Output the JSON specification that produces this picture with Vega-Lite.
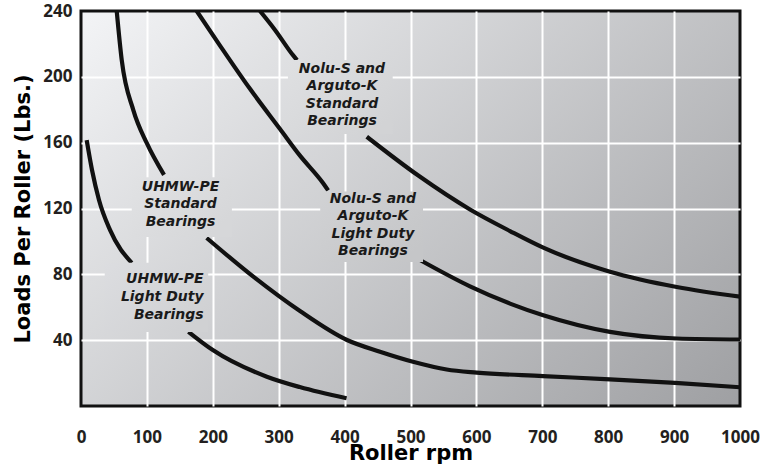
{
  "$schema": "https://vega.github.io/schema/vega-lite/v6.json",
  "width": 659,
  "height": 395,
  "autosize": "none",
  "padding": {"left": 81, "top": 11, "right": 38, "bottom": 62},
  "background": "white",
  "config": {
    "view": {
      "fill": {"gradient": "linear", "x1": 0, "y1": 0, "x2": 1.2, "y2": 0.76,
        "stops": [{"offset": 0, "color": "#f3f4f6"}, {"offset": 1, "color": "#9c9da0"}]},
      "stroke": "#111111",
      "strokeWidth": 3
    },
    "axis": {
      "domain": false,
      "ticks": false,
      "tickSize": 0,
      "grid": true,
      "gridColor": "#ffffff",
      "gridWidth": 2,
      "labelFont": "Open Sans",
      "labelFontWeight": 700,
      "labelFontSize": 17,
      "labelColor": "#231f20",
      "titleFont": "DejaVu Sans",
      "titleFontWeight": 700,
      "titleFontSize": 21,
      "titleColor": "#000000"
    }
  },
  "datasets": {
    "curves": [
      {"seg": "A1", "rpm": 8.6, "load": 161.6},
      {"seg": "A1", "rpm": 16.7, "load": 143.4},
      {"seg": "A1", "rpm": 27.3, "load": 125.2},
      {"seg": "A1", "rpm": 44, "load": 107},
      {"seg": "A1", "rpm": 77, "load": 86.9},
      {"seg": "A2", "rpm": 163, "load": 45.1},
      {"seg": "A2", "rpm": 200, "load": 34},
      {"seg": "A2", "rpm": 282, "load": 17.8},
      {"seg": "A2", "rpm": 332, "load": 11.5},
      {"seg": "A2", "rpm": 403, "load": 4.7},
      {"seg": "B1", "rpm": 54.2, "load": 240},
      {"seg": "B1", "rpm": 61.8, "load": 210.2},
      {"seg": "B1", "rpm": 79.4, "load": 179.8},
      {"seg": "B1", "rpm": 99.7, "load": 159.8},
      {"seg": "B1", "rpm": 126, "load": 140.4},
      {"seg": "B2", "rpm": 190.7, "load": 102.1},
      {"seg": "B2", "rpm": 261.5, "load": 78.6},
      {"seg": "B2", "rpm": 332.3, "load": 57.7},
      {"seg": "B2", "rpm": 403.6, "load": 40.1},
      {"seg": "B2", "rpm": 453.7, "load": 33},
      {"seg": "B2", "rpm": 503.8, "load": 26.9},
      {"seg": "B2", "rpm": 554.9, "load": 22.2},
      {"seg": "B2", "rpm": 600.5, "load": 20.3},
      {"seg": "B2", "rpm": 701, "load": 18.2},
      {"seg": "B2", "rpm": 802.7, "load": 16.2},
      {"seg": "B2", "rpm": 901.4, "load": 14},
      {"seg": "B2", "rpm": 1000, "load": 11.4},
      {"seg": "C1", "rpm": 175.6, "load": 240},
      {"seg": "C1", "rpm": 210.9, "load": 219},
      {"seg": "C1", "rpm": 256.4, "load": 192.7},
      {"seg": "C1", "rpm": 302, "load": 168.3},
      {"seg": "C1", "rpm": 332.3, "load": 152.1},
      {"seg": "C1", "rpm": 367.2, "load": 135.5},
      {"seg": "C1", "rpm": 375, "load": 131},
      {"seg": "C2", "rpm": 514.4, "load": 88.7},
      {"seg": "C2", "rpm": 590.3, "load": 72.7},
      {"seg": "C2", "rpm": 651, "load": 62.2},
      {"seg": "C2", "rpm": 701.5, "load": 55.1},
      {"seg": "C2", "rpm": 802.7, "load": 45},
      {"seg": "C2", "rpm": 904, "load": 41},
      {"seg": "C2", "rpm": 1000, "load": 40.4},
      {"seg": "D1", "rpm": 271.6, "load": 240},
      {"seg": "D1", "rpm": 294.4, "load": 228.5},
      {"seg": "D1", "rpm": 322, "load": 213},
      {"seg": "D1", "rpm": 327.8, "load": 210.2},
      {"seg": "D2", "rpm": 433.6, "load": 163.6},
      {"seg": "D2", "rpm": 511.8, "load": 140},
      {"seg": "D2", "rpm": 590.3, "load": 119.4},
      {"seg": "D2", "rpm": 651, "load": 106.3},
      {"seg": "D2", "rpm": 701.5, "load": 96.2},
      {"seg": "D2", "rpm": 802.7, "load": 81.6},
      {"seg": "D2", "rpm": 904, "load": 72.3},
      {"seg": "D2", "rpm": 1000, "load": 66.4}
    ],
    "labels": [
      {"id": "A", "rpm": 36, "rpm2": 193, "load": 45, "load2": 87, "trpm": 186, "tload": 77.2, "text": "UHMW-PE\nLight Duty\nBearings"},
      {"id": "B", "rpm": 77, "rpm2": 229, "load": 102.7, "load2": 139, "trpm": 151, "tload": 133.2, "text": "UHMW-PE\nStandard\nBearings"},
      {"id": "C", "rpm": 363, "rpm2": 519, "load": 87.5, "load2": 130.4, "trpm": 443, "tload": 125.8, "text": "Nolu-S and\nArguto-K\nLight Duty\nBearings"},
      {"id": "D", "rpm": 314, "rpm2": 473, "load": 165.3, "load2": 210.2, "trpm": 396, "tload": 204.8, "text": "Nolu-S and\nArguto-K\nStandard\nBearings"}
    ]
  },
  "layer": [
    {
      "data": {"name": "curves"},
      "mark": {"type": "line", "color": "#111111", "strokeWidth": 4.2, "interpolate": "monotone", "clip": true},
      "encoding": {
        "x": {"field": "rpm", "type": "quantitative",
          "scale": {"domain": [0, 1000], "nice": false, "zero": false},
          "axis": {"title": "Roller rpm", "values": [0, 100, 200, 300, 400, 500, 600, 700, 800, 900, 1000],
            "format": "d", "labelFlush": false, "labelPadding": 23, "titleY": 53, "titleBaseline": "alphabetic",
            "gridOpacity": {"condition": {"test": "datum.value == 0 || datum.value == 1000", "value": 0}, "value": 1}}},
        "y": {"field": "load", "type": "quantitative",
          "scale": {"domain": [0, 240], "nice": false},
          "axis": {"title": "Loads Per Roller (Lbs.)", "values": [40, 80, 120, 160, 200, 240],
            "labelPadding": 9, "titleX": -58, "titleBaseline": "middle",
            "gridOpacity": {"condition": {"test": "datum.value == 240", "value": 0}, "value": 1}}},
        "detail": {"field": "seg", "type": "nominal"}
      }
    },
    {
      "data": {"name": "labels"},
      "transform": [{"filter": "datum.id == 'A'"}],
      "mark": {"type": "rect", "fill": {"gradient": "linear", "x1": 0, "y1": 0, "x2": 1, "y2": 0.709,
        "stops": [{"offset": 0, "color": "#dcdde0"}, {"offset": 1, "color": "#d0d1d3"}]}},
      "encoding": {
        "x": {"field": "rpm", "type": "quantitative"}, "x2": {"field": "rpm2"},
        "y": {"field": "load", "type": "quantitative"}, "y2": {"field": "load2"}
      }
    },
    {
      "data": {"name": "labels"},
      "transform": [{"filter": "datum.id == 'B'"}],
      "mark": {"type": "rect", "fill": {"gradient": "linear", "x1": 0, "y1": 0, "x2": 1, "y2": 0.635,
        "stops": [{"offset": 0, "color": "#e1e2e4"}, {"offset": 1, "color": "#d6d7d9"}]}},
      "encoding": {
        "x": {"field": "rpm", "type": "quantitative"}, "x2": {"field": "rpm2"},
        "y": {"field": "load", "type": "quantitative"}, "y2": {"field": "load2"}
      }
    },
    {
      "data": {"name": "labels"},
      "transform": [{"filter": "datum.id == 'C'"}],
      "mark": {"type": "rect", "fill": {"gradient": "linear", "x1": 0, "y1": 0, "x2": 1, "y2": 0.74,
        "stops": [{"offset": 0, "color": "#d1d2d4"}, {"offset": 1, "color": "#c5c6c8"}]}},
      "encoding": {
        "x": {"field": "rpm", "type": "quantitative"}, "x2": {"field": "rpm2"},
        "y": {"field": "load", "type": "quantitative"}, "y2": {"field": "load2"}
      }
    },
    {
      "data": {"name": "labels"},
      "transform": [{"filter": "datum.id == 'D'"}],
      "mark": {"type": "rect", "fill": {"gradient": "linear", "x1": 0, "y1": 0, "x2": 1, "y2": 0.746,
        "stops": [{"offset": 0, "color": "#dfe0e2"}, {"offset": 1, "color": "#d2d3d5"}]}},
      "encoding": {
        "x": {"field": "rpm", "type": "quantitative"}, "x2": {"field": "rpm2"},
        "y": {"field": "load", "type": "quantitative"}, "y2": {"field": "load2"}
      }
    },
    {
      "data": {"name": "labels"},
      "transform": [{"filter": "datum.id != 'A'"}],
      "mark": {"type": "text", "font": "DejaVu Sans", "fontWeight": 700, "fontStyle": "italic", "fontSize": 14,
        "lineHeight": 17.5, "lineBreak": "\n", "align": "center", "baseline": "middle", "color": "#1a1a1a"},
      "encoding": {
        "x": {"field": "trpm", "type": "quantitative"},
        "y": {"field": "tload", "type": "quantitative"},
        "text": {"field": "text"}
      }
    },
    {
      "data": {"name": "labels"},
      "transform": [{"filter": "datum.id == 'A'"}],
      "mark": {"type": "text", "font": "DejaVu Sans", "fontWeight": 700, "fontStyle": "italic", "fontSize": 14,
        "lineHeight": 18, "lineBreak": "\n", "align": "right", "baseline": "middle", "color": "#1a1a1a"},
      "encoding": {
        "x": {"field": "trpm", "type": "quantitative"},
        "y": {"field": "tload", "type": "quantitative"},
        "text": {"field": "text"}
      }
    }
  ]
}
